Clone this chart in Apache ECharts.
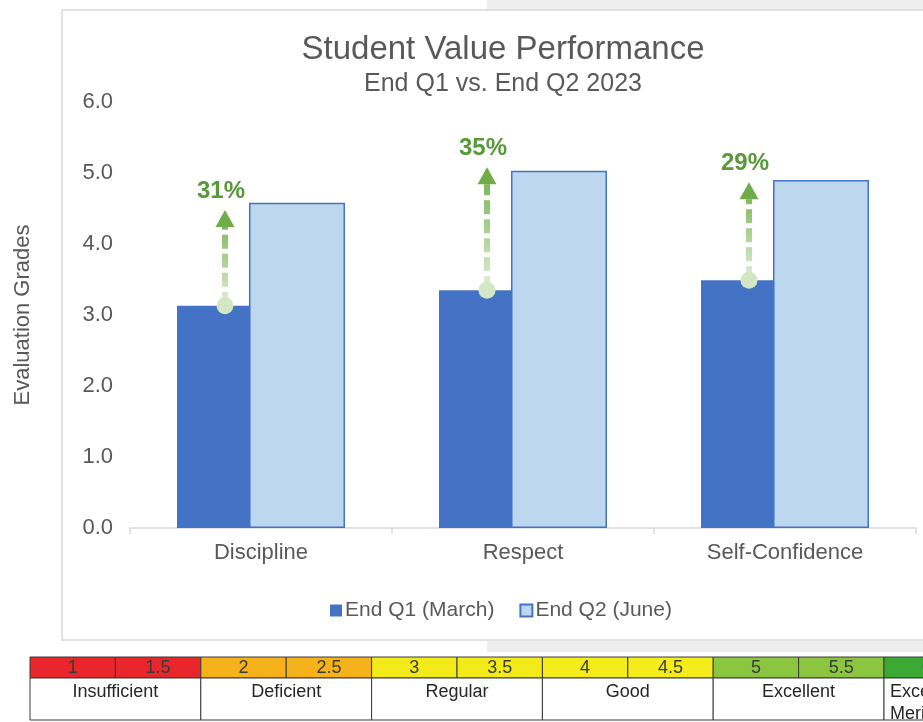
<!DOCTYPE html>
<html><head><meta charset="utf-8">
<script src="https://cdn.jsdelivr.net/npm/echarts@6/dist/echarts.min.js"></script>
<style>html,body{margin:0;padding:0;background:#fff}#c{width:923px;height:722px}</style>
</head><body><div id="c"></div>
<script>
const categories = ['Discipline', 'Respect', 'Self-Confidence'];
const seriesNames = ['End Q1 (March)', 'End Q2 (June)'];
const q1Values = [3.13, 3.35, 3.49];
const q2Values = [4.58, 5.03, 4.90];
const arrowTips = [4.48, 5.08, 4.87];
const changeLabels = ['31%', '35%', '29%'];
const yTicks = [0, 1, 2, 3, 4, 5, 6];
const gradeSteps = ['1', '1.5', '2', '2.5', '3', '3.5', '4', '4.5', '5', '5.5', '6', '6.5'];
const gradeLevels = ['Insufficient', 'Deficient', 'Regular', 'Good', 'Excellent', 'Excellent with\nMerit'];
const levelColors = ['#E8262B', '#F6B21A', '#F3EB19', '#F4EC1B', '#8CC540', '#3AAA35'];
const levelAlign = ['center', 'center', 'center', 'center', 'center', 'left'];

const FONT = '"Liberation Sans", Arial, sans-serif';
const TXT = '#595959';
const BAR_W = 96;
const CELL_W = 85.4;

const chart = echarts.init(document.getElementById('c'));

const arrowData = categories.map((c, i) => [i, q1Values[i], arrowTips[i]]);

function renderArrow(params, api) {
  const i = api.value(0);
  const base = api.coord([i, api.value(1)]);
  const tip = api.coord([i, api.value(2)]);
  const x = base[0] - BAR_W * 0.375;
  const y0 = base[1], y1 = tip[1];
  const headH = 17, headW = 19;
  return {
    type: 'group',
    children: [
      { type: 'line', shape: { x1: x, y1: y0, x2: x, y2: y1 + headH },
        style: { stroke: { type: 'linear', x: 0, y: y0, x2: 0, y2: y1, global: true,
          colorStops: [{ offset: 0, color: '#E2EFD9' }, { offset: 0.5, color: '#A9CF8F' }, { offset: 1, color: '#6FAD47' }] },
          lineWidth: 6, lineDash: [14, 5] } },
      { type: 'polygon', shape: { points: [[x, y1], [x - headW / 2, y1 + headH], [x + headW / 2, y1 + headH]] },
        style: { fill: '#70AD47' } },
      { type: 'circle', shape: { cx: x, cy: y0, r: 8.5 }, style: { fill: '#D3E6C5' } },
      { type: 'text', x: x - 4, y: y1 - 19,
        style: { text: changeLabels[params.dataIndex], fill: '#589A3A', font: 'bold 24px ' + FONT,
          align: 'center', verticalAlign: 'middle' } }
    ]
  };
}

function renderStep(params, api) {
  const i = api.value(0);
  const p0 = api.coord([i, 0]);
  const p1 = api.coord([i + 1, 1]);
  return {
    type: 'group',
    children: [
      { type: 'rect', shape: { x: p0[0], y: p0[1], width: p1[0] - p0[0], height: p1[1] - p0[1] },
        style: { fill: levelColors[Math.floor(i / 2)], stroke: '#3A3A3A', lineWidth: 1 } },
      { type: 'text', x: (p0[0] + p1[0]) / 2, y: (p0[1] + p1[1]) / 2 + 1,
        style: { text: gradeSteps[params.dataIndex], fill: '#3A3A3A', font: '18px ' + FONT,
          align: 'center', verticalAlign: 'middle' } }
    ]
  };
}

function renderLevel(params, api) {
  const j = params.dataIndex;
  const p0 = api.coord([api.value(0), 1]);
  const p1 = api.coord([api.value(0) + 2, 3]);
  const left = levelAlign[j] === 'left';
  return {
    type: 'group',
    children: [
      { type: 'rect', shape: { x: p0[0], y: p0[1], width: p1[0] - p0[0], height: p1[1] - p0[1] },
        style: { fill: '#fff', stroke: '#3A3A3A', lineWidth: 1 } },
      { type: 'text', x: left ? p0[0] + 6 : (p0[0] + p1[0]) / 2, y: p0[1] + 3,
        style: { text: gradeLevels[j], fill: '#262626', font: '18px ' + FONT,
          align: left ? 'left' : 'center', verticalAlign: 'top', lineHeight: 22 } }
    ]
  };
}

chart.setOption({
  backgroundColor: '#fff',
  animation: false,
  graphic: [
    { type: 'rect', z: -10, shape: { x: 487, y: 0, width: 440, height: 10 }, style: { fill: '#EDEDED' } },
    { type: 'rect', z: -10, shape: { x: 487, y: 641, width: 440, height: 11 }, style: { fill: '#EDEDED' } },
    { type: 'rect', z: -9, shape: { x: 62, y: 10, width: 900, height: 630 }, style: { fill: '#fff', stroke: '#D9D9D9', lineWidth: 1.5 } }
  ],
  title: [
    { text: 'Student Value Performance', left: 498, top: 28, textAlign: 'center',
      textStyle: { fontFamily: FONT, fontSize: 33, fontWeight: 'normal', color: TXT } },
    { text: 'End Q1 vs. End Q2 2023', left: 498, top: 67, textAlign: 'center',
      textStyle: { fontFamily: FONT, fontSize: 25, fontWeight: 'normal', color: TXT } }
  ],
  legend: {
    left: 325, top: 595, itemWidth: 12, itemHeight: 12, itemGap: 25,
    icon: 'rect',
    data: seriesNames,
    textStyle: { fontFamily: FONT, fontSize: 21, color: TXT, padding: [0, 0, 0, -2] }
  },
  grid: [
    { left: 130, right: 7, top: 102, bottom: 194 },
    { left: 30, right: 0, top: 657, height: 63 }
  ],
  xAxis: [
    { type: 'category', data: categories, gridIndex: 0,
      axisLine: { lineStyle: { color: '#D9D9D9', width: 1.5 } },
      axisTick: { show: true, length: 6, lineStyle: { color: '#D9D9D9', width: 1.5 } },
      axisLabel: { fontFamily: FONT, fontSize: 22, color: TXT, margin: 14 } },
    { type: 'value', gridIndex: 1, min: 0, max: (923 - 30) / CELL_W, show: false }
  ],
  yAxis: [
    { type: 'value', gridIndex: 0, min: yTicks[0], max: yTicks[yTicks.length - 1], interval: 1,
      name: 'Evaluation Grades', nameLocation: 'middle', nameGap: 96, nameRotate: 90,
      nameTextStyle: { fontFamily: FONT, fontSize: 22, color: TXT },
      axisLine: { show: false }, axisTick: { show: false }, splitLine: { show: false },
      axisLabel: { fontFamily: FONT, fontSize: 22, color: TXT, margin: 17, formatter: v => v.toFixed(1) } },
    { type: 'value', gridIndex: 1, min: 0, max: 3, inverse: true, show: false }
  ],
  series: [
    { name: seriesNames[0], type: 'bar', data: q1Values, barWidth: BAR_W, barGap: '-25%',
      itemStyle: { color: '#4472C4' }, z: 2 },
    { name: seriesNames[1], type: 'bar', data: q2Values, barWidth: BAR_W,
      itemStyle: { color: '#BDD7EE', borderColor: '#4472C4', borderWidth: 1.5 }, z: 3 },
    { type: 'custom', renderItem: renderArrow, data: arrowData, encode: { x: 0, y: [1, 2] }, z: 5, silent: true },
    { type: 'custom', xAxisIndex: 1, yAxisIndex: 1, renderItem: renderStep,
      data: gradeSteps.map((g, i) => [i, 0]), clip: false, silent: true },
    { type: 'custom', xAxisIndex: 1, yAxisIndex: 1, renderItem: renderLevel,
      data: gradeLevels.map((l, j) => [j * 2, 1]), clip: false, silent: true }
  ]
});
</script>
</body></html>
